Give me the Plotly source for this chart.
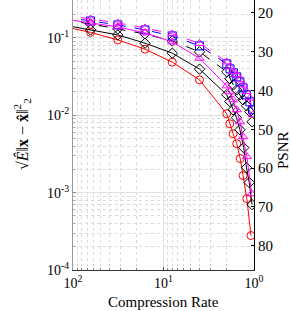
import plotly.graph_objects as go

# compression rates (x) and errors (y) per series
red_rate = [128, 64, 32, 16, 8, 4, 2, 1.85, 1.7, 1.55, 1.42, 1.32, 1.2, 1.08]
red_err = [0.1412, 0.1178, 0.0942, 0.0715, 0.0486, 0.0287, 0.01045, 0.00777,
           0.00577, 0.00429, 0.00275, 0.00166, 0.000837, 0.000279]

blk_rate = [128, 64, 32, 16, 8, 4, 2, 1.85, 1.7, 1.56, 1.43, 1.3, 1.21, 1.13, 1.05]
blk_err = [0.1473, 0.1268, 0.1093, 0.0855, 0.0635, 0.0395, 0.0184, 0.01507,
           0.01178, 0.00929, 0.0065, 0.00381, 0.0021, 0.00135, 0.0007]

mag_rate = [128, 64, 32, 16, 8, 4, 2, 1.86, 1.7, 1.55, 1.43, 1.32, 1.2, 1.06]
mag_err = [0.1758, 0.1563, 0.1387, 0.116, 0.0888, 0.0547, 0.0240, 0.0201,
           0.01585, 0.01178, 0.00824, 0.00528, 0.00292, 0.00097]

blkd_rate = [128, 64, 32, 16, 8, 4, 2, 1.84, 1.69, 1.55, 1.43, 1.32, 1.21, 1.11, 1.05]
blkd_err = [0.1707, 0.1516, 0.1306, 0.1126, 0.0915, 0.0660, 0.0364, 0.0296,
            0.0247, 0.0213, 0.0184, 0.01585, 0.01326, 0.0111, 0.00824]

blud_rate = [128, 64, 32, 16, 8, 4, 2, 1.84, 1.69, 1.55, 1.43, 1.32, 1.21, 1.11, 1.04]
blud_err = [0.1866, 0.1658, 0.1472, 0.1268, 0.1061, 0.0789, 0.0462, 0.0398,
            0.0354, 0.0314, 0.0271, 0.0226, 0.0184, 0.0149, 0.01178]

magd_rate = [128, 64, 32, 16, 8, 4, 2, 1.84, 1.69, 1.55, 1.43, 1.32, 1.21, 1.11, 1.03]
magd_err = [0.1981, 0.1759, 0.1561, 0.1346, 0.1126, 0.0849, 0.0490, 0.0423,
            0.0367, 0.0333, 0.0287, 0.0247, 0.0203, 0.01667, 0.01015]

x_ticks = [100, 10, 1]
x_ticktext = ["10<sup>2</sup>", "10<sup>1</sup>", "10<sup>0</sup>"]
y_ticks = [1e-4, 1e-3, 1e-2, 1e-1]
y_ticktext = ["10<sup>-4</sup>", "10<sup>-3</sup>", "10<sup>-2</sup>", "10<sup>-1</sup>"]
psnr_ticks = [20, 30, 40, 50, 60, 70, 80]

x_minor = [m * 10 ** e for e in (0, 1) for m in range(2, 10)]
y_minor = [m * 10.0 ** e for e in (-4, -3, -2, -1) for m in range(2, 10)]

FONT = "Liberation Serif"

series = [
    (blkd_rate, blkd_err, "black", "dash", "diamond-open"),
    (blud_rate, blud_err, "blue", "dash", "square-open"),
    (magd_rate, magd_err, "magenta", "dash", "triangle-up-open"),
    (red_rate, red_err, "red", "solid", "circle-open"),
    (blk_rate, blk_err, "black", "solid", "diamond-open"),
    (mag_rate, mag_err, "magenta", "solid", "triangle-up-open"),
]

fig = go.Figure()
for xs, ys, col, dash, sym in series:
    fig.add_trace(go.Scatter(
        x=xs, y=ys, mode="lines+markers",
        line=dict(color=col, width=1, dash=dash),
        marker=dict(symbol=sym, size=8, color=col, line=dict(width=1, color=col)),
        showlegend=False,
    ))

# invisible trace to anchor PSNR axis
fig.add_trace(go.Scatter(x=[10], y=[50], yaxis="y2", mode="markers",
                         marker=dict(opacity=0), showlegend=False, hoverinfo="skip"))

grid_major = "#e2e2e2"
grid_minor = "#dadada"

L, R, T, B = 73, 37, 0, 41
W, H = 291, 311
pw, ph = W - L - R, H - T - B

fig.update_layout(
    width=W, height=H,
    margin=dict(l=L, r=R, t=T, b=B),
    paper_bgcolor="white", plot_bgcolor="white",
    font=dict(family=FONT, size=14, color="black"),
    xaxis=dict(
        type="log", range=[2, 0], automargin=False,
        tickvals=x_ticks, ticktext=x_ticktext,
        showline=True, linecolor="#333", linewidth=1,
        ticks="inside", ticklen=3, tickcolor="#444",
        showgrid=True, gridcolor=grid_major, gridwidth=1,
        minor=dict(tickvals=x_minor, showgrid=True, gridcolor=grid_minor,
                   griddash="dot", gridwidth=1,
                   ticks="inside", ticklen=2, tickcolor="#888"),
        tickfont=dict(size=14),
        zeroline=False,
    ),
    yaxis=dict(
        type="log", range=[-4, -0.51], automargin=False,
        tickvals=y_ticks, ticktext=y_ticktext,
        showline=True, linecolor="#999", linewidth=1,
        ticks="inside", ticklen=3, tickcolor="#888",
        showgrid=True, gridcolor=grid_major, gridwidth=1,
        minor=dict(tickvals=y_minor, showgrid=True, gridcolor=grid_minor,
                   griddash="dot", gridwidth=1,
                   ticks="inside", ticklen=2, tickcolor="#aaa"),
        tickfont=dict(size=14),
        zeroline=False,
    ),
    yaxis2=dict(
        overlaying="y", side="right", range=[86.31, 16.65], automargin=False,
        tickvals=psnr_ticks,
        showline=True, linecolor="black", linewidth=1,
        ticks="inside", ticklen=3, tickcolor="black",
        showgrid=False, zeroline=False,
        tickfont=dict(size=15),
    ),
    annotations=[
        dict(text="Compression Rate", xref="paper", yref="paper",
             x=(163 - L) / pw, y=-(302 - (H - B)) / ph, showarrow=False,
             font=dict(size=15), xanchor="center", yanchor="middle"),
        dict(text="PSNR", xref="paper", yref="paper",
             x=1 + (283 - (W - R)) / pw, y=((H - B) - 150) / ph,
             showarrow=False, textangle=-90, font=dict(size=15),
             xanchor="center", yanchor="middle"),
        dict(text="√<i>Ê</i>‖<b>x</b> − <b>x̂</b>‖<sup>2</sup><sub>2</sub>",
             xref="paper", yref="paper",
             x=-(L - 22) / pw, y=((H - B) - 134) / ph,
             showarrow=False, textangle=-90, font=dict(size=16),
             xanchor="center", yanchor="middle"),
    ],
)

fig.write_html("out.html", config={"displayModeBar": False},
               post_script="document.body.style.margin='0';document.body.style.overflow='hidden';")
